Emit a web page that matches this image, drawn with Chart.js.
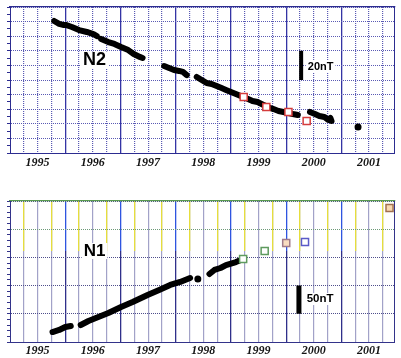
<!DOCTYPE html>
<html><head><meta charset="utf-8">
<script src="https://cdn.jsdelivr.net/npm/chart.js@4.4.0/dist/chart.umd.min.js"></script>
<style>
html,body{margin:0;padding:0;background:#fff;width:401px;height:358px;overflow:hidden}
canvas{position:absolute;left:0}
#c1{top:0}
#c2{top:180px}
</style></head><body>
<canvas id="c1" width="401" height="172"></canvas>
<canvas id="c2" width="401" height="178"></canvas>
<script>
// ---------- data ----------
const yearLabels = ['1995','1996','1997','1998','1999','2000','2001'];

// N2 panel (nT, relative); null = gap in the trace
const n2Time = [1995.80,1995.89,1995.96,1996.01,1996.12,1996.25,1996.39,1996.51,1996.57,null,
  1996.65,1996.78,1996.89,1997.01,1997.14,1997.24,1997.35,1997.40,null,
  1997.79,1997.88,1997.97,1998.06,1998.13,1998.20,null,
  1998.38,1998.47,1998.56,1998.65,1998.74,1998.83,1998.91,1999.00,1999.09,1999.22,1999.31,1999.39,1999.48,1999.59,1999.66,1999.77,1999.86,1999.95,2000.04,2000.12,2000.21,null,
  2000.43,2000.52,2000.60,2000.69,2000.76,2000.80,2000.82];
const n2Field = [90.4,88.4,87.7,87.7,86.3,84.2,82.9,81.5,80.1,null,
  78.1,76.0,74.7,72.6,70.5,67.8,65.8,65.1,null,
  59.6,58.2,56.8,56.2,55.5,53.4,null,
  52.1,50.0,47.9,47.3,45.9,44.5,43.2,41.8,40.4,38.4,37.0,35.6,34.9,32.9,31.5,30.1,28.8,28.1,27.4,26.7,26.0,null,
  28.1,26.7,25.3,24.7,22.6,24.0,21.9];
const n2DotTime = [2001.30];
const n2DotField = [17.8];
const n2SquareTime = [1999.23,1999.64,2000.04,2000.37];
const n2SquareField = [38.4,31.5,28.1,21.9];

// N1 panel
const n1Time = [1995.77,1995.89,1996.00,1996.10,null,
  1996.28,1996.42,1996.60,1996.78,1997.01,1997.22,1997.49,1997.70,1997.90,1998.08,1998.26,null,
  1998.61,1998.70,1998.81,1998.91,1999.09,1999.22];
const n1Field = [17.7,21.3,26.6,28.4,null,
  30.1,37.2,44.3,51.4,62.1,70.9,83.3,92.2,101.1,106.4,113.5,null,
  120.6,127.7,131.2,136.5,141.8,147.2];
const n1DotTime = [1998.40];
const n1DotField = [111.7];
const n1SquareTime = [1999.22,1999.61,2000.00,2000.34,2001.87];
const n1SquareField = [147.2,161.3,175.5,177.3,237.6];
const n1SquareEdge = ['#5e9a5e','#5e9a5e','#a07a8a','#5a5ac8','#a07050'];
const n1SquareFill = ['#ffffff','#ffffff','#f8dcc0','#ffffff','#f8d8b0'];

// ---------- helpers ----------
const X_MIN = 1995, X_MAX = 2001.96;
function pts(ts, vs){
  const out = [];
  for (let i = 0; i < ts.length; i++) out.push({x: ts[i] ?? ts[i-1], y: vs[i]});
  return out;
}
function quarterTicks(filter){
  const a = [];
  for (let i = 1; i < 28; i++){
    const v = X_MIN + i*0.25;
    if (!filter || filter(v)) a.push({value: v});
  }
  return a;
}
const frac = v => Math.round((v - Math.floor(v))*100)/100;
function yearLabel(v){
  if (frac(v) === 0.5) return yearLabels[Math.floor(v) - 1995] ?? '';
  return '';
}
function vGrad(chart, stops){
  const a = chart.chartArea;
  if (!a) return 'rgba(0,0,0,0)';
  const g = chart.ctx.createLinearGradient(0, a.top, 0, a.bottom);
  stops.forEach(([o,c]) => g.addColorStop(o,c));
  return g;
}
const textPlugin = {
  id: 'labels',
  afterDraw(chart, args, opts){
    const {ctx} = chart, x = chart.scales.x, y = chart.scales.y;
    (opts.items || []).forEach(it => {
      const px = x.getPixelForValue(it.x), py = y.getPixelForValue(it.y);
      ctx.save();
      ctx.font = it.font;
      ctx.textBaseline = 'middle';
      ctx.textAlign = it.align || 'center';
      const w = ctx.measureText(it.text).width;
      if (it.bg){
        ctx.fillStyle = '#fff';
        const left = (it.align === 'left') ? px : px - w/2;
        ctx.fillRect(left - 2, py - it.h/2, w + 4, it.h);
      }
      ctx.fillStyle = '#000';
      ctx.fillText(it.text, px, py);
      ctx.restore();
    });
  }
};
const tickFont = {family: '"Liberation Serif","Times New Roman",serif', size: 12, style: 'italic', weight: 'bold'};
const T = 'rgba(0,0,0,0)';

function hiddenX(tickFn, grid, border){
  return {
    type: 'linear', position: 'top', min: X_MIN, max: X_MAX,
    afterBuildTicks: s => { s.ticks = tickFn(); },
    afterFit: s => { s.height = 0; },
    ticks: {display: false, autoSkip: false},
    grid: Object.assign({drawTicks: false}, grid),
    border: border || {display: false}
  };
}

function makeOptions(cfg){
  const scales = {};
  scales.xQ = hiddenX(() => quarterTicks(v => frac(v) !== 0), {color: cfg.vDotColor, lineWidth: cfg.vDotWidth},
    {display: false, dash: cfg.vDash});
  if (cfg.yellow){
    scales.xYellow = hiddenX(() => quarterTicks(v => frac(v) === 0.25 || frac(v) === 0.75),
      {color: c => vGrad(c.chart, [[0,'#e6de3c'],[0.355,'#e6de3c'],[0.355,T],[1,T]]), lineWidth: 1.3});
  }
  scales.x = {
    type: 'linear', position: 'bottom', min: X_MIN, max: X_MAX,
    afterBuildTicks: s => { s.ticks = quarterTicks(); },
    afterFit: s => { s.height = cfg.xHeight; },
    ticks: {autoSkip: false, maxRotation: 0, minRotation: 0, callback: v => yearLabel(v),
            font: tickFont, color: '#141414', padding: cfg.labelPad},
    grid: {display: false, drawTicks: false},
    border: {display: true, color: cfg.frameColor, width: 1}
  };
  scales.xYear = hiddenX(() => [1996,1997,1998,1999,2000,2001].map(v => ({value: v})),
    {color: cfg.yearColor, lineWidth: 1.3}, {display: true, color: cfg.topColor, width: 1.2});
  scales.y = {
    type: 'linear', position: 'left', min: 0, max: cfg.yMax,
    afterBuildTicks: s => { const a = []; for (let v = 0; v <= cfg.yMax; v += cfg.tickStep) a.push({value: v}); s.ticks = a; },
    afterFit: s => { s.width = 10; },
    ticks: {display: false, autoSkip: false},
    grid: {color: c => (c.tick && c.tick.value % cfg.gridStep === 0) ? cfg.hColor(c.tick.value) : T,
           tickColor: cfg.frameColor, tickLength: 3, drawTicks: true, lineWidth: 1},
    border: {display: true, color: cfg.frameColor, width: 1, dash: [1,1]}
  };
  scales.yR = {
    type: 'linear', position: 'right', min: 0, max: cfg.yMax,
    afterFit: s => { s.width = 0; },
    ticks: {display: false},
    grid: {drawOnChartArea: false, drawTicks: false},
    border: {display: true, color: cfg.frameColor, width: 1}
  };
  return {
    responsive: false, animation: false, devicePixelRatio: 1,
    layout: {padding: {top: cfg.padTop, right: 1, left: 0, bottom: 0}},
    plugins: {legend: {display: false}, tooltip: {enabled: false}, labels: {items: cfg.items}},
    scales
  };
}

// ---------- N2 ----------
new Chart(document.getElementById('c1'), {
  type: 'scatter',
  data: {datasets: [
    {data: pts(n2SquareTime, n2SquareField), pointStyle: 'rect', pointRadius: 5, borderColor: '#d43c3c', backgroundColor: '#ffffff', borderWidth: 1.5, showLine: false},
    {data: pts(n2DotTime, n2DotField), pointRadius: 3.5, backgroundColor: '#000', borderWidth: 0, showLine: false},
    {data: pts(n2Time, n2Field), showLine: true, spanGaps: false, borderColor: '#000', borderWidth: 6, pointRadius: 0, borderCapStyle: 'round', borderJoinStyle: 'round'},
    {data: [{x: 2000.27, y: 50}, {x: 2000.27, y: 70}], showLine: true, borderColor: '#000', borderWidth: 4, pointRadius: 0}
  ]},
  options: makeOptions({
    xHeight: 19, labelPad: 3, padTop: 7, yMax: 100, tickStep: 5, gridStep: 10,
    vDotColor: '#5a5ab4', vDotWidth: 1.2, vDash: [1,1],
    yearColor: '#3434a4', frameColor: '#2c2c90', topColor: '#2c2c90',
    hColor: () => '#5a5ab4', yellow: false,
    items: [
      {text: 'N2', x: 1996.53, y: 63.7, font: 'bold 18px "Liberation Sans", Arial, sans-serif', bg: true, h: 17},
      {text: '20nT', x: 2000.39, y: 58.9, align: 'left', font: 'bold 11px "Liberation Sans", Arial, sans-serif', bg: true, h: 12}
    ]
  }),
  plugins: [textPlugin]
});

// ---------- N1 ----------
new Chart(document.getElementById('c2'), {
  type: 'scatter',
  data: {datasets: [
    {data: pts(n1SquareTime, n1SquareField), pointStyle: 'rect', pointRadius: 5, borderColor: n1SquareEdge, backgroundColor: n1SquareFill, borderWidth: 1.5, showLine: false},
    {data: pts(n1DotTime, n1DotField), pointRadius: 3.5, backgroundColor: '#000', borderWidth: 0, showLine: false},
    {data: pts(n1Time, n1Field), showLine: true, spanGaps: false, borderColor: '#000', borderWidth: 6, pointRadius: 0, borderCapStyle: 'round', borderJoinStyle: 'round'},
    {data: [{x: 2000.23, y: 50}, {x: 2000.23, y: 100}], showLine: true, borderColor: '#000', borderWidth: 5, pointRadius: 0}
  ]},
  options: makeOptions({
    xHeight: 16, labelPad: 2, padTop: 21, yMax: 250, tickStep: 10, gridStep: 50,
    vDotColor: '#a2a2c8', vDotWidth: 1.2, vDash: [],
    yearColor: c => vGrad(c.chart, [[0,'#2f55e0'],[0.355,'#2f55e0'],[0.355,'#30308a'],[1,'#30308a']]),
    frameColor: '#33338a', topColor: '#5a9a50',
    hColor: v => v === 200 ? '#6e9a78' : '#4e4e8c', yellow: true,
    items: [
      {text: 'N1', x: 1996.53, y: 161.3, font: 'bold 17px "Liberation Sans", Arial, sans-serif', bg: true, h: 16},
      {text: '50nT', x: 2000.37, y: 76.2, align: 'left', font: 'bold 11.5px "Liberation Sans", Arial, sans-serif', bg: true, h: 12}
    ]
  }),
  plugins: [textPlugin]
});
</script>
</body></html>
